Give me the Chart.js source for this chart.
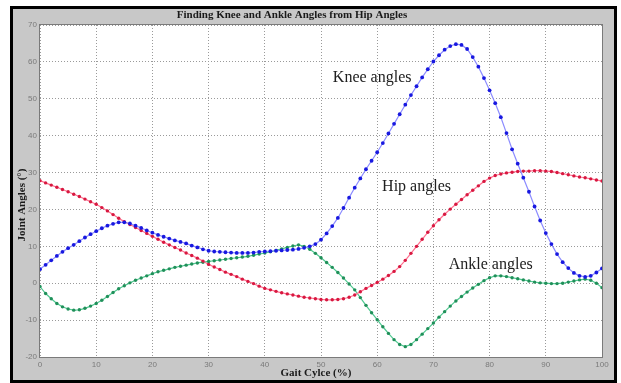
<!DOCTYPE html>
<html>
<head>
<meta charset="utf-8">
<script src="https://cdn.jsdelivr.net/npm/chart.js@4"></script>
<style>
html,body{margin:0;padding:0;background:#fff;}
#wrap{position:relative;width:621px;height:383px;}
</style>
</head>
<body>
<div id="wrap"><canvas id="c" width="621" height="383"></canvas></div>
<script>
const gaitCycle = [];
for (let i = 0; i <= 100; i++) gaitCycle.push(i);

const kneeAngles = [
  3.8, 5.0, 6.2, 7.4, 8.5, 9.5, 10.4, 11.4, 12.4, 13.3, 14.1,
  14.9, 15.6, 16.1, 16.5, 16.5, 16.2, 15.6, 15.0, 14.3, 13.7,
  13.1, 12.6, 12.1, 11.6, 11.2, 10.8, 10.2, 9.7, 9.2, 8.8,
  8.6, 8.5, 8.4, 8.3, 8.2, 8.2, 8.2, 8.3, 8.5, 8.6,
  8.7, 8.8, 8.9, 9.0, 9.1, 9.3, 9.6, 10.0, 10.6, 11.8,
  13.5, 15.5, 17.7, 20.4, 23.2, 25.9, 28.4, 30.9, 33.2, 35.5,
  38.0, 40.6, 43.2, 45.8, 48.4, 51.0, 53.4, 55.8, 58.0, 60.1,
  61.8, 63.3, 64.3, 64.8, 64.6, 63.5, 61.3, 58.7, 55.6, 52.3,
  48.8, 45.0, 40.7, 36.3, 32.4, 28.6, 24.8, 20.8, 17.0, 13.6,
  10.6, 7.9, 5.7, 4.1, 2.8, 2.0, 1.7, 2.0, 2.9, 4.0
];

const hipAngles = [
  27.8, 27.2, 26.6, 26.0, 25.4, 24.8, 24.1, 23.5, 22.8, 22.1, 21.4,
  20.5, 19.6, 18.6, 17.6, 16.7, 15.9, 15.1, 14.3, 13.5, 12.7,
  11.9, 11.1, 10.4, 9.7, 9.0, 8.2, 7.5, 6.8, 6.0, 5.1,
  4.4, 3.7, 3.0, 2.4, 1.8, 1.1, 0.5, -0.1, -0.8, -1.4,
  -1.8, -2.2, -2.6, -2.9, -3.2, -3.5, -3.8, -4.0, -4.2, -4.4,
  -4.5, -4.5, -4.4, -4.2, -3.8, -3.2, -2.3, -1.4, -0.6, 0.2,
  1.1, 2.1, 3.2, 4.5, 6.2, 8.1, 10.0, 11.9, 13.8, 15.6,
  17.2, 18.7, 20.1, 21.4, 22.7, 24.0, 25.2, 26.4, 27.6, 28.5,
  29.2, 29.6, 29.9, 30.1, 30.3, 30.4, 30.4, 30.5, 30.5, 30.4,
  30.3, 30.0, 29.7, 29.4, 29.1, 28.8, 28.6, 28.3, 28.0, 27.7
];

const ankleAngles = [
  -0.9, -2.8, -4.2, -5.5, -6.4, -7.0, -7.3, -7.2, -6.8, -6.2, -5.5,
  -4.6, -3.6, -2.5, -1.5, -0.7, 0.1, 0.8, 1.4, 2.0, 2.6,
  3.1, 3.5, 3.9, 4.3, 4.6, 4.9, 5.2, 5.5, 5.7, 5.9,
  6.1, 6.3, 6.5, 6.7, 6.9, 7.1, 7.3, 7.6, 7.9, 8.2,
  8.5, 8.9, 9.3, 9.7, 10.1, 10.4, 10.0, 9.2, 8.1, 6.9,
  5.6, 4.3, 2.9, 1.4, -0.2, -1.8, -3.9, -6.0, -8.0, -9.9,
  -11.8, -13.6, -15.3, -16.6, -17.2, -16.6, -15.3, -13.8, -12.3, -10.8,
  -9.2, -7.7, -6.2, -4.8, -3.6, -2.4, -1.3, -0.3, 0.7, 1.5,
  2.0, 2.0, 1.8, 1.5, 1.2, 0.9, 0.6, 0.3, 0.1, 0.0,
  -0.1, -0.1, 0.0, 0.3, 0.6, 0.9, 1.1, 0.8, 0.0, -1.2
];

const xTickValues = [0, 10, 20, 30, 40, 50, 60, 70, 80, 90, 100];
const yTickValues = [-20, -10, 0, 10, 20, 30, 40, 50, 60, 70];

const titleText = 'Finding Knee and Ankle Angles from Hip Angles';
const xAxisTitle = 'Gait Cylce (%)';
const yAxisTitle = 'Joint Angles (°)';
const seriesLabels = ['Knee angles', 'Hip angles', 'Ankle angles'];

function pts(arr) { return gaitCycle.map((x, i) => ({x: x, y: arr[i]})); }

const framePlugin = {
  id: 'frame',
  beforeDraw(chart) {
    const ctx = chart.ctx;
    const a = chart.chartArea;
    ctx.save();
    ctx.fillStyle = '#ffffff';
    ctx.fillRect(0, 0, chart.width, chart.height);
    ctx.fillStyle = '#000000';
    ctx.fillRect(10, 6, 607, 377);
    ctx.fillStyle = '#c8c8c8';
    ctx.fillRect(13, 9, 601, 371);
    ctx.fillStyle = '#ffffff';
    ctx.fillRect(a.left, a.top, a.right - a.left, a.bottom - a.top);
    ctx.restore();
  },
  afterDraw(chart) {
    const ctx = chart.ctx;
    const a = chart.chartArea;
    const xs = chart.scales.x, ys = chart.scales.y;
    ctx.save();
    ctx.strokeStyle = '#7a7a7a';
    ctx.lineWidth = 1;
    ctx.strokeRect(a.left - 0.5, a.top - 0.5, a.right - a.left + 1, a.bottom - a.top + 1);
    ctx.fillStyle = '#1a1a1a';
    ctx.textAlign = 'center';
    ctx.textBaseline = 'middle';
    ctx.font = 'bold 11px "Liberation Serif", "DejaVu Serif", serif';
    ctx.fillText(titleText, 292, 15);
    ctx.font = 'bold 11px "Liberation Serif", "DejaVu Serif", serif';
    ctx.fillText(xAxisTitle, 316, 373);
    ctx.save();
    ctx.translate(22, 205);
    ctx.rotate(-Math.PI / 2);
    ctx.fillText(yAxisTitle, 0, 0);
    ctx.restore();
    ctx.font = '16px "Liberation Serif", "DejaVu Serif", serif';
    ctx.fillStyle = '#202020';
    ctx.fillText(seriesLabels[0], xs.getPixelForValue(59.1), ys.getPixelForValue(55.8));
    ctx.fillText(seriesLabels[1], xs.getPixelForValue(67.0), ys.getPixelForValue(26.2));
    ctx.fillText(seriesLabels[2], xs.getPixelForValue(80.2), ys.getPixelForValue(4.9));
    ctx.restore();
  }
};

new Chart(document.getElementById('c'), {
  type: 'line',
  data: {
    datasets: [
      {
        label: seriesLabels[0],
        data: pts(kneeAngles),
        borderColor: '#8c8cff',
        backgroundColor: '#1010e0',
        pointBackgroundColor: '#1818e0',
        pointBorderWidth: 0,
        pointRadius: 1.9,
        borderWidth: 1.2,
        tension: 0
      },
      {
        label: seriesLabels[1],
        data: pts(hipAngles),
        borderColor: '#ff7090',
        backgroundColor: '#d81840',
        pointBackgroundColor: '#d81840',
        pointBorderWidth: 0,
        pointRadius: 1.7,
        borderWidth: 1.2,
        tension: 0
      },
      {
        label: seriesLabels[2],
        data: pts(ankleAngles),
        borderColor: '#50c890',
        backgroundColor: '#20905a',
        pointBackgroundColor: '#20905a',
        pointBorderWidth: 0,
        pointRadius: 1.7,
        borderWidth: 1.2,
        tension: 0
      }
    ]
  },
  options: {
    responsive: false,
    animation: false,
    devicePixelRatio: 1,
    layout: { padding: { left: 0, top: 25, right: 19, bottom: 0 } },
    plugins: {
      legend: { display: false },
      title: { display: false },
      tooltip: { enabled: false }
    },
    scales: {
      x: {
        type: 'linear',
        min: 0, max: 100,
        afterFit(s) { s.height = 26; },
        afterBuildTicks(s) { s.ticks = xTickValues.map(v => ({value: v})); },
        grid: { color: '#9a9a9a', lineWidth: 1, drawTicks: false, tickBorderDash: [1, 2] },
        border: { display: false, dash: [1, 2] },
        ticks: { color: '#7a7a7a', font: { family: 'Liberation Sans, Arial, sans-serif', size: 8 }, padding: 3, maxRotation: 0 }
      },
      y: {
        type: 'linear',
        min: -20, max: 70,
        afterFit(s) { s.width = 40; },
        afterBuildTicks(s) { s.ticks = yTickValues.map(v => ({value: v})); },
        grid: { color: '#9a9a9a', lineWidth: 1, drawTicks: false },
        border: { display: false, dash: [1, 2] },
        ticks: { color: '#7a7a7a', font: { family: 'Liberation Sans, Arial, sans-serif', size: 8 }, padding: 3 }
      }
    }
  },
  plugins: [framePlugin]
});
</script>
</body>
</html>
